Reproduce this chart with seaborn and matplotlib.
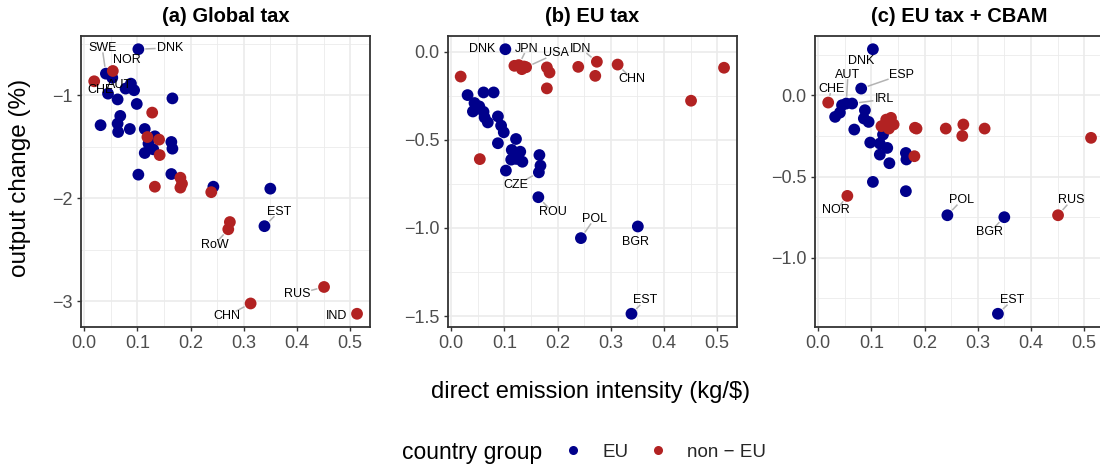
import matplotlib
matplotlib.use("Agg")
import matplotlib.pyplot as plt
from matplotlib.lines import Line2D
from matplotlib.ticker import MultipleLocator
import numpy as np
import pandas as pd
import seaborn as sns

sns.set_theme(style="white")
plt.rcParams["font.family"] = ["Liberation Sans", "DejaVu Sans"]

panel_titles = ["(a) Global tax", "(b) EU tax", "(c) EU tax + CBAM"]
group_names = ["EU", "non − EU"]
group_colors = {"EU": "#00008B", "non − EU": "#B22222"}

# ---------------- (a) Global tax ----------------
a_eu_code = ["DNK", "SWE", "", "", "AUT", "", "", "", "", "", "", "", "", "",
             "", "", "", "", "", "", "", "", "", "", "", "", "EST"]
a_eu_x = [0.102, 0.041, 0.053, 0.088, 0.078, 0.094, 0.045, 0.166, 0.063, 0.099,
          0.068, 0.031, 0.063, 0.064, 0.086, 0.114, 0.133, 0.121, 0.164, 0.166,
          0.130, 0.114, 0.102, 0.164, 0.243, 0.350, 0.339]
a_eu_y = [-0.553, -0.790, -0.830, -0.887, -0.935, -0.951, -0.984, -1.030, -1.040,
          -1.084, -1.200, -1.290, -1.275, -1.356, -1.327, -1.327, -1.398, -1.469,
          -1.453, -1.518, -1.524, -1.560, -1.770, -1.764, -1.887, -1.906, -2.270]
a_ne_code = ["NOR", "CHE", "", "", "", "", "", "", "", "", "", "", "RoW", "RUS",
             "CHN", "IND"]
a_ne_x = [0.054, 0.019, 0.128, 0.119, 0.141, 0.142, 0.181, 0.184, 0.181, 0.133,
          0.239, 0.274, 0.271, 0.451, 0.313, 0.513]
a_ne_y = [-0.764, -0.864, -1.168, -1.405, -1.430, -1.580, -1.800, -1.858, -1.896,
          -1.887, -1.940, -2.230, -2.300, -2.860, -3.020, -3.120]
a_lab = ["SWE", "DNK", "NOR", "CHE", "AUT", "EST", "RoW", "RUS", "CHN", "IND"]
a_lab_x = [0.034, 0.161, 0.081, 0.031, 0.0675, 0.366, 0.245, 0.400, 0.269, 0.474]
a_lab_y = [-0.54, -0.54, -0.66, -0.951, -0.903, -2.13, -2.45, -2.93, -3.14, -3.14]
a_lab_seg = [1, 1, 0, 0, 0, 1, 1, 1, 1, 0]

# ---------------- (b) EU tax ----------------
b_eu_code = ["DNK", "", "", "", "", "", "", "", "", "", "", "", "", "", "", "",
             "", "", "", "", "", "", "", "CZE", "ROU", "POL", "BGR", "EST"]
b_eu_x = [0.102, 0.031, 0.061, 0.080, 0.044, 0.041, 0.053, 0.061, 0.063, 0.069,
          0.088, 0.094, 0.099, 0.088, 0.122, 0.114, 0.130, 0.113, 0.123, 0.134,
          0.103, 0.166, 0.168, 0.165, 0.164, 0.244, 0.351, 0.339]
b_eu_y = [0.013, -0.247, -0.232, -0.232, -0.292, -0.340, -0.311, -0.342, -0.374,
          -0.402, -0.368, -0.420, -0.458, -0.520, -0.496, -0.558, -0.568, -0.613,
          -0.609, -0.625, -0.675, -0.587, -0.647, -0.685, -0.826, -1.058, -0.992,
          -1.487]
b_ne_code = ["CHE", "NOR", "", "JPN", "", "", "USA", "", "", "", "", "IDN", "",
             "CHN", "", ""]
b_ne_x = [0.018, 0.054, 0.119, 0.127, 0.133, 0.137, 0.141, 0.180, 0.185, 0.180,
          0.239, 0.274, 0.271, 0.313, 0.513, 0.451]
b_ne_y = [-0.142, -0.610, -0.081, -0.077, -0.100, -0.085, -0.089, -0.090, -0.119,
          -0.209, -0.087, -0.058, -0.138, -0.074, -0.092, -0.279]
b_lab = ["DNK", "JPN", "USA", "IDN", "CHN", "CZE", "ROU", "POL", "BGR", "EST"]
b_lab_x = [0.059, 0.1425, 0.1975, 0.244, 0.340, 0.1225, 0.191, 0.269, 0.347, 0.364]
b_lab_y = [0.017, 0.017, -0.011, 0.017, -0.157, -0.757, -0.911, -0.949, -1.081, -1.411]
b_lab_seg = [0, 1, 1, 1, 1, 1, 1, 1, 0, 1]

# ---------------- (c) EU tax + CBAM ----------------
c_eu_code = ["DNK", "ESP", "AUT", "IRL", "", "", "", "", "", "", "", "", "", "",
             "", "", "", "", "", "", "", "POL", "BGR", "EST"]
c_eu_x = [0.103, 0.081, 0.053, 0.064, 0.045, 0.041, 0.032, 0.088, 0.086, 0.095,
          0.068, 0.122, 0.098, 0.116, 0.130, 0.116, 0.134, 0.165, 0.166, 0.103,
          0.165, 0.243, 0.350, 0.338]
c_eu_y = [0.283, 0.041, -0.051, -0.051, -0.061, -0.107, -0.133, -0.092, -0.143,
          -0.164, -0.211, -0.242, -0.291, -0.297, -0.324, -0.365, -0.418, -0.355,
          -0.395, -0.533, -0.590, -0.738, -0.750, -1.344]
c_ne_code = ["CHE", "NOR", "", "", "", "", "", "", "", "", "", "", "", "", "", "RUS"]
c_ne_x = [0.019, 0.055, 0.119, 0.128, 0.133, 0.137, 0.142, 0.182, 0.185, 0.181,
          0.240, 0.273, 0.271, 0.313, 0.513, 0.451]
c_ne_y = [-0.045, -0.619, -0.190, -0.150, -0.205, -0.139, -0.180, -0.200, -0.205,
          -0.375, -0.205, -0.180, -0.250, -0.205, -0.262, -0.738]
c_lab = ["DNK", "AUT", "ESP", "CHE", "IRL", "NOR", "POL", "BGR", "RUS", "EST"]
c_lab_x = [0.081, 0.056, 0.157, 0.025, 0.124, 0.034, 0.270, 0.322, 0.476, 0.365]
c_lab_y = [0.209, 0.127, 0.127, 0.041, -0.025, -0.707, -0.645, -0.844, -0.645, -1.26]
c_lab_seg = [0, 1, 1, 1, 1, 1, 1, 1, 1, 1]


def build_frame(eu_code, eu_x, eu_y, ne_code, ne_x, ne_y):
    return pd.DataFrame({
        "code": eu_code + ne_code,
        "intensity": eu_x + ne_x,
        "change": eu_y + ne_y,
        "group": ["EU"] * len(eu_x) + ["non − EU"] * len(ne_x),
    })


panels = [
    (build_frame(a_eu_code, a_eu_x, a_eu_y, a_ne_code, a_ne_x, a_ne_y),
     a_lab, a_lab_x, a_lab_y, a_lab_seg, 1.0),
    (build_frame(b_eu_code, b_eu_x, b_eu_y, b_ne_code, b_ne_x, b_ne_y),
     b_lab, b_lab_x, b_lab_y, b_lab_seg, 0.5),
    (build_frame(c_eu_code, c_eu_x, c_eu_y, c_ne_code, c_ne_x, c_ne_y),
     c_lab, c_lab_x, c_lab_y, c_lab_seg, 0.5),
]


def expand(lo, hi, frac=0.05):
    d = (hi - lo) * frac
    return lo - d, hi + d


all_x = pd.concat([p[0]["intensity"] for p in panels])
x_lim = expand(all_x.min(), all_x.max())

W, H = 1100, 468
fig = plt.figure(figsize=(W / 100, H / 100), dpi=100)
fig.patch.set_facecolor("white")
renderer = fig.canvas.get_renderer()

POINT_SIZE = 72
point_radius_px = np.sqrt(POINT_SIZE) / 2 * fig.dpi / 72

panel_left = [80.5, 447.5, 814.5]
panel_w, panel_top, panel_bottom = 289.7, 36, 327


def leader_line(ax, text, px, py):
    """Grey segment from the label box edge to just outside the point."""
    bb = text.get_window_extent(renderer)
    c = np.array([(bb.x0 + bb.x1) / 2, (bb.y0 + bb.y1) / 2])
    p = ax.transData.transform((px, py))
    d = p - c
    hw, hh = bb.width / 2 + 1.0, bb.height / 2 - 1.5
    s = min(hw / abs(d[0]) if d[0] else np.inf, hh / abs(d[1]) if d[1] else np.inf)
    start = c + d * s
    length = np.hypot(*d)
    end = p - d / length * (point_radius_px + 1.0)
    if np.dot(end - start, d) / length < 2.0:
        return
    inv = ax.transData.inverted()
    (x0, y0), (x1, y1) = inv.transform([start, end])
    ax.plot([x0, x1], [y0, y1], color="#B3B3B3", lw=1.1, zorder=3,
            solid_capstyle="butt")


for i, (df, labs, lx, ly, lseg, ystep) in enumerate(panels):
    ax = fig.add_axes([panel_left[i] / W, 1 - panel_bottom / H,
                       panel_w / W, (panel_bottom - panel_top) / H])
    sns.scatterplot(data=df, x="intensity", y="change", hue="group",
                    hue_order=group_names, palette=group_colors, s=POINT_SIZE,
                    linewidth=0, alpha=1, legend=False, ax=ax, zorder=2)
    ax.set_xlim(*x_lim)
    ax.set_ylim(*expand(df["change"].min(), df["change"].max()))

    ax.xaxis.set_major_locator(MultipleLocator(0.1))
    ax.xaxis.set_minor_locator(MultipleLocator(0.05))
    ax.yaxis.set_major_locator(MultipleLocator(ystep))
    ax.yaxis.set_minor_locator(MultipleLocator(ystep / 2))
    ax.grid(which="major", color="#EBEBEB", linewidth=1.2)
    ax.grid(which="minor", color="#EBEBEB", linewidth=0.6)
    ax.set_axisbelow(True)
    ax.set_facecolor("white")
    for sp in ax.spines.values():
        sp.set_color("#333333")
        sp.set_linewidth(1.3)
        sp.set_zorder(5)
    ax.tick_params(which="major", length=3.2, width=1.0, color="#333333",
                   labelsize=13, labelcolor="#4D4D4D", pad=2.5,
                   bottom=True, left=True)
    ax.tick_params(which="minor", length=0)
    ax.set_xlabel("")
    ax.set_ylabel("")

    # country labels with leader lines
    for code, tx, ty, seg in zip(labs, lx, ly, lseg):
        row = df[df["code"] == code].iloc[0]
        t = ax.text(tx, ty, code, ha="center", va="center", fontsize=9,
                    color="black", zorder=4)
        if seg:
            leader_line(ax, t, row["intensity"], row["change"])

    fig.text((panel_left[i] + panel_w / 2) / W, 1 - 16 / H, panel_titles[i],
             ha="center", va="center", fontsize=14.5, fontweight="bold",
             color="black")

fig.text(20 / W, 1 - 178 / H, "output change (%)", rotation=90,
         ha="center", va="center", fontsize=17.5, color="black")
fig.text(591 / W, 1 - 392 / H, "direct emission intensity (kg/$)",
         ha="center", va="center", fontsize=17, color="black")

# legend
fig.text(402 / W, 1 - 452 / H, "country group", ha="left", va="center",
         fontsize=16.5, color="black")
handles = [Line2D([], [], marker="o", linestyle="", color=group_colors[g],
                  markersize=6.5, markeredgewidth=0) for g in group_names]
fig.legend(handles, group_names, loc="center left",
           bbox_to_anchor=(563.6 / W, 1 - 452 / H), ncol=2, frameon=False,
           fontsize=13.5, handlelength=1.0, handletextpad=1.05,
           columnspacing=1.1, borderpad=0, borderaxespad=0)

fig.savefig("out.png", dpi=100, facecolor="white")
